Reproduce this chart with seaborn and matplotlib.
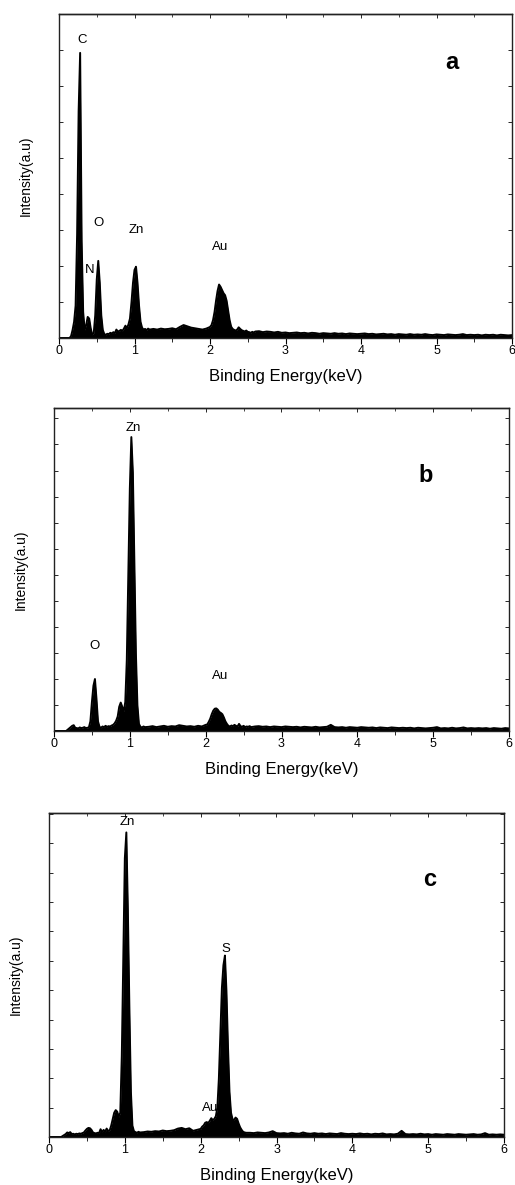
import numpy as np
import pandas as pd
import matplotlib
matplotlib.use("Agg")
import matplotlib.pyplot as plt
from matplotlib.ticker import MultipleLocator
import seaborn as sns

# ---------------- data ----------------
energy_kev = [
    0.00, 0.02, 0.04, 0.06, 0.08, 0.10, 0.12, 0.14, 0.16, 0.18,
    0.20, 0.22, 0.24, 0.26, 0.28, 0.30, 0.32, 0.34, 0.36, 0.38,
    0.40, 0.42, 0.44, 0.46, 0.48, 0.50, 0.52, 0.54, 0.56, 0.58,
    0.60, 0.62, 0.64, 0.66, 0.68, 0.70, 0.72, 0.74, 0.76, 0.78,
    0.80, 0.82, 0.84, 0.86, 0.88, 0.90, 0.92, 0.94, 0.96, 0.98,
    1.00, 1.02, 1.04, 1.06, 1.08, 1.10, 1.12, 1.14, 1.16, 1.18,
    1.20,
    1.25, 1.30, 1.35, 1.40, 1.45, 1.50, 1.55, 1.60, 1.65, 1.70,
    1.75, 1.80, 1.85, 1.90, 1.95, 2.00,
    2.02, 2.04, 2.06, 2.08, 2.10, 2.12, 2.14, 2.16, 2.18, 2.20,
    2.22, 2.24, 2.26, 2.28, 2.30, 2.32, 2.34, 2.36, 2.38, 2.40,
    2.42, 2.44, 2.46, 2.48, 2.50, 2.52, 2.54, 2.56, 2.58, 2.60,
    2.65, 2.70, 2.75, 2.80, 2.85, 2.90, 2.95, 3.00, 3.05, 3.10,
    3.15, 3.20, 3.25, 3.30, 3.35, 3.40, 3.45, 3.50, 3.55, 3.60,
    3.65, 3.70, 3.75, 3.80, 3.85, 3.90, 3.95, 4.00, 4.05, 4.10,
    4.15, 4.20, 4.25, 4.30, 4.35, 4.40, 4.45, 4.50, 4.55, 4.60,
    4.65, 4.70, 4.75, 4.80, 4.85, 4.90, 4.95, 5.00, 5.05, 5.10,
    5.15, 5.20, 5.25, 5.30, 5.35, 5.40, 5.45, 5.50, 5.55, 5.60,
    5.65, 5.70, 5.75, 5.80, 5.85, 5.90, 5.95, 6.00,
]

intensity_a = [
    0, 0, 0, 0, 0, 0, 0, 0, 0.6, 2.5,
    5, 10, 32, 70, 88, 30, 8, 2.5, 4, 6.5,
    6, 3, 1.0, 1.5, 7, 18, 23.8, 17, 7, 2.5,
    1.2, 1.0, 1.3, 1.2, 1.6, 1.4, 1.8, 1.5, 2.6, 2.0,
    2.2, 2.5, 2.2, 2.9, 3.8, 3.0, 4.2, 6, 11, 17,
    21, 22, 17, 10, 5, 3.2, 2.6, 2.8, 2.4, 2.9,
    2.6,
    2.8, 2.6, 2.9, 2.7, 2.8, 3.0, 2.7, 3.4, 4.0, 3.6,
    3.2, 3.0, 2.8, 2.6, 2.9, 3.4,
    4, 5.5, 8, 11.5, 14.5, 16.5, 15.8, 14.8, 13.8, 13.2,
    11.5, 8.5, 5.5, 3.5, 2.8, 2.5, 2.3, 2.6, 3.3, 2.8,
    2.4, 2.2, 2.0, 2.3, 1.9, 1.8, 1.6, 1.9, 1.7, 2.0,
    2.1, 1.8, 2.0, 1.9, 1.7, 1.9, 1.6, 1.7, 1.5, 1.6,
    1.7, 1.5, 1.6, 1.4, 1.6, 1.5, 1.3, 1.5, 1.4, 1.3,
    1.5, 1.3, 1.4, 1.2, 1.4, 1.3, 1.2, 1.3, 1.4, 1.2,
    1.3, 1.1, 1.2, 1.3, 1.1, 1.2, 1.0, 1.2, 1.1, 1.0,
    1.2, 1.0, 1.1, 1.0, 1.2, 1.0, 0.9, 1.1, 1.0, 0.9,
    1.1, 1.0, 0.9, 1.0, 1.2, 0.9, 1.0, 0.9, 1.0, 0.8,
    1.0, 0.9, 1.0, 0.8, 1.0, 0.9, 0.8, 0.9,
]

intensity_b = [
    0, 0, 0, 0, 0, 0, 0, 0, 0, 0.4,
    0.8, 1.2, 1.6, 1.8, 1.0, 0.9, 0.8, 1.1, 0.9, 1.0,
    1.2, 0.9, 1.0, 1.1, 3, 9, 14, 16.1, 10, 3,
    1.3, 1.0, 1.4, 1.2, 1.6, 1.3, 1.5, 1.4, 1.7, 1.9,
    2.4, 3.2, 4.5, 7.5, 8.8, 7.5, 6.0, 9, 22, 48,
    75, 91, 80, 52, 24, 8, 2.2, 1.3, 1.1, 1.4,
    1.2,
    1.3, 1.5, 1.2, 1.4, 1.6, 1.3, 1.5, 1.4, 1.8, 1.6,
    1.4, 1.5, 1.3, 1.6, 1.4, 1.9,
    2.0, 2.8, 3.8, 5.2, 6.3, 6.9, 7.0, 6.6, 5.9, 5.6,
    5.2, 4.2, 3.0, 2.2, 1.6, 1.4, 1.7, 1.5, 1.9, 1.6,
    1.4, 2.2, 1.5, 1.3, 1.6, 1.2, 1.4, 1.3, 1.5, 1.2,
    1.4, 1.5, 1.3, 1.4, 1.2, 1.4, 1.3, 1.2, 1.4, 1.3,
    1.2, 1.3, 1.1, 1.3, 1.2, 1.1, 1.3, 1.1, 1.2, 1.3,
    1.9, 1.2, 1.1, 1.2, 1.0, 1.2, 1.1, 1.0, 1.2, 1.1,
    1.0, 1.1, 0.9, 1.1, 1.0, 0.9, 1.1, 1.0, 0.9, 1.0,
    0.9, 1.0, 0.8, 1.0, 0.9, 0.8, 0.9, 1.0, 1.2, 0.8,
    0.9, 0.8, 1.0, 0.8, 0.9, 1.1, 0.8, 0.9, 0.8, 0.9,
    0.8, 0.9, 0.7, 0.9, 0.8, 0.7, 0.9, 0.8,
]

intensity_c = [
    0, 0, 0, 0, 0, 0, 0, 0, 0, 0.3,
    0.6, 0.9, 1.4, 1.2, 1.5, 0.9, 1.0, 0.8, 1.0, 0.9,
    1.1, 1.0, 1.2, 1.4, 2.0, 2.5, 2.8, 2.7, 2.2, 1.4,
    1.2, 1.1, 1.3, 1.2, 2.4, 1.5, 2.2, 1.6, 2.6, 1.9,
    2.0, 3.5, 5.5, 7.5, 8.3, 7.8, 6.2, 7.5, 25, 55,
    86, 94, 70, 40, 14, 3.5, 1.8, 1.5, 1.3, 1.6,
    1.4,
    1.5, 1.7, 1.6, 1.8, 1.7, 2.0, 1.8, 1.9, 2.1, 2.6,
    2.8, 2.4, 2.7, 1.9, 2.2, 2.5,
    3.2, 3.6, 4.4, 4.6, 4.3, 5.0, 5.8, 5.2, 5.6, 6.4,
    9, 18, 32, 46, 53, 56, 45, 28, 14, 7.5,
    5.5, 5.2, 6.0, 5.6, 4.2, 3.0, 2.2, 1.6, 1.4, 1.3,
    1.3, 1.2, 1.4, 1.3, 1.2, 1.4, 1.8, 1.2, 1.1, 1.2,
    1.0, 1.3, 1.1, 1.0, 1.4, 1.1, 1.0, 1.2, 1.0, 1.1,
    0.9, 1.1, 1.0, 0.9, 1.2, 1.0, 0.9, 1.0, 0.9, 1.1,
    0.9, 1.0, 0.8, 1.0, 0.9, 1.1, 0.8, 0.9, 0.8, 1.0,
    1.9, 0.9, 0.8, 0.9, 0.8, 1.0, 0.8, 0.9, 0.7, 0.9,
    0.8, 0.7, 0.9, 0.8, 0.7, 0.9, 0.8, 0.7, 0.8, 0.9,
    0.7, 0.8, 1.2, 0.7, 0.8, 0.7, 0.8, 0.7,
]

panel_letters = ["a", "b", "c"]
peak_labels_a = ["C", "N", "O", "Zn", "Au"]
peak_pos_a = [(0.30, 92), (0.40, 21), (0.52, 35.4), (1.03, 33.3), (2.14, 28)]
peak_labels_b = ["Zn", "O", "Au"]
peak_pos_b = [(1.04, 93.7), (0.53, 26.4), (2.19, 17)]
peak_labels_c = ["Zn", "S", "Au"]
peak_pos_c = [(1.03, 97.1), (2.33, 58), (2.12, 8.9)]
x_ticks = [0, 1, 2, 3, 4, 5, 6]
x_label = "Binding Energy(keV)"
y_label = "Intensity(a.u)"

# ---------------- style ----------------
sns.set_theme(style="ticks")
plt.rcParams["font.family"] = ["Liberation Sans", "DejaVu Sans"]

fig = plt.figure(figsize=(5.15, 11.85), dpi=100)

# axes rectangles (figure fractions)
rects = [
    [59 / 515, (1185 - 338) / 1185, 453 / 515, 324 / 1185],
    [54 / 515, (1185 - 731) / 1185, 455 / 515, 323 / 1185],
    [49 / 515, (1185 - 1137) / 1185, 455 / 515, 324 / 1185],
]
ytick_steps = [100 / 9, 100 / 12.4, 100 / 11.03]
letter_pos = [(5.2, 85), (4.9, 79), (5.02, 79.6)]
series = [intensity_a, intensity_b, intensity_c]
labels = [(peak_labels_a, peak_pos_a), (peak_labels_b, peak_pos_b), (peak_labels_c, peak_pos_c)]

for i in range(3):
    ax = fig.add_axes(rects[i])
    df = pd.DataFrame({"energy": energy_kev, "intensity": series[i]})
    sns.lineplot(data=df, x="energy", y="intensity", ax=ax, color="black",
                 linewidth=1.4, estimator=None, sort=False)
    ax.fill_between(df["energy"], df["intensity"], 0, color="black", linewidth=0)
    ax.set_xlim(0, 6)
    ax.set_ylim(0, 100)

    ax.set_xticks(x_ticks)
    ax.set_xticklabels([str(t) for t in x_ticks])
    ax.xaxis.set_minor_locator(MultipleLocator(0.5))
    ax.yaxis.set_major_locator(MultipleLocator(ytick_steps[i]))
    ax.tick_params(axis="x", which="major", direction="out", length=4, width=0.8,
                   labelsize=9, pad=1, colors="black", bottom=True, top=False)
    ax.tick_params(axis="x", which="minor", direction="out", length=3, width=0.7,
                   bottom=True, top=False)
    ax.tick_params(axis="y", which="major", direction="in", length=3, width=0.7,
                   left=True, right=True, labelleft=False)

    sec = ax.secondary_xaxis("top")
    sec.set_xticks(x_ticks)
    sec.xaxis.set_minor_locator(MultipleLocator(0.5))
    sec.tick_params(axis="x", which="major", direction="in", length=3, width=0.7, labeltop=False)
    sec.tick_params(axis="x", which="minor", direction="in", length=2.5, width=0.6)
    sec.spines["top"].set_linewidth(1.0)
    sec.spines["top"].set_color("#222222")

    for sp in ax.spines.values():
        sp.set_linewidth(1.0)
        sp.set_color("#222222")
        sp.set_visible(True)

    ax.set_xlabel(x_label, fontsize=12, labelpad=9, color="black")
    ax.set_ylabel(y_label, fontsize=10, labelpad=19, color="black")

    for txt, (xx, yy) in zip(*labels[i]):
        ax.text(xx, yy, txt, fontsize=9.5, ha="center", va="center", color="black")
    lx, ly = letter_pos[i]
    ax.text(lx, ly, panel_letters[i], fontsize=17, fontweight="bold",
            ha="center", va="center", color="black")

fig.savefig("out.png", dpi=100)
